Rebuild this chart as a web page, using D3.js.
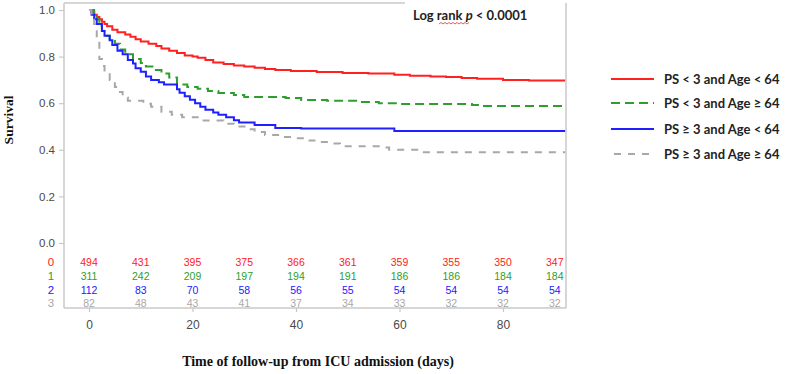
<!DOCTYPE html>
<html><head><meta charset="utf-8">
<script src="https://cdn.jsdelivr.net/npm/d3@7/dist/d3.min.js"></script>
<style>body{margin:0;background:#fff}svg{display:block}</style>
</head><body><svg id="c" width="785" height="374"></svg>
<script>
// ---- data ----
const seriesNames = ["PS < 3 and Age < 64","PS < 3 and Age \u2265 64","PS \u2265 3 and Age < 64","PS \u2265 3 and Age \u2265 64"];
const redCurve = [[0,1.0],[0.5,0.99],[1,0.98],[1.5,0.97],[2,0.96],[2.5,0.95],[3,0.94],[3.5,0.93],[4.5,0.915],[5.5,0.905],[7,0.895],[8,0.885],[9,0.875],[10,0.865],[11.5,0.855],[13,0.845],[14,0.835],[15.5,0.825],[17,0.815],[18.5,0.805],[20,0.80],[21,0.795],[22.5,0.785],[24,0.775],[26,0.768],[28,0.762],[30,0.757],[32,0.752],[34,0.747],[36,0.742],[39,0.738],[44,0.734],[49,0.73],[54,0.727],[59,0.722],[62,0.718],[66,0.715],[69,0.712],[72,0.708],[75,0.705],[80,0.70],[85,0.697],[92,0.697]];
const greenCurve = [[0,1.0],[1,0.98],[1.5,0.96],[2,0.93],[2.5,0.91],[3,0.89],[4,0.875],[5,0.855],[6,0.83],[7,0.81],[8.5,0.79],[10,0.772],[11,0.757],[12.5,0.742],[14,0.727],[15.5,0.71],[17,0.68],[19,0.67],[21,0.662],[23,0.652],[25,0.644],[28,0.635],[30,0.627],[38,0.622],[41,0.614],[46,0.61],[52,0.605],[56,0.60],[60,0.597],[74,0.592],[76,0.588],[92,0.588]];
const blueCurve = [[0,1.0],[0.5,0.98],[1,0.96],[1.5,0.94],[2.5,0.91],[3,0.89],[4,0.87],[4.5,0.85],[5.5,0.825],[6.5,0.81],[7.5,0.785],[8.5,0.77],[9,0.75],[10,0.735],[11,0.715],[12,0.70],[13.5,0.69],[14.5,0.68],[17,0.66],[17.5,0.645],[18.5,0.63],[19.5,0.615],[20.5,0.60],[21.5,0.585],[22.5,0.572],[24,0.56],[25,0.55],[26.5,0.54],[28,0.527],[29,0.517],[32,0.506],[36,0.494],[41,0.491],[59,0.481],[92,0.481]];
const grayCurve = [[0,1.0],[0.5,0.976],[1,0.94],[1.5,0.87],[2,0.79],[2.5,0.76],[3,0.73],[4,0.70],[5,0.67],[5.5,0.648],[6.5,0.625],[7.5,0.61],[10.5,0.598],[12,0.585],[14,0.563],[16,0.55],[18,0.54],[21,0.526],[26,0.512],[28,0.50],[31,0.488],[32,0.476],[34,0.464],[37,0.455],[40,0.45],[42,0.44],[45,0.433],[47,0.427],[48.5,0.415],[57,0.41],[58,0.40],[64,0.39],[92,0.39]];
const riskTimes = [0,10,20,30,40,50,60,70,80,90];
const riskRed = [494,431,395,375,366,361,359,355,350,347];
const riskGreen = [311,242,209,197,194,191,186,186,184,184];
const riskBlue = [112,83,70,58,56,55,54,54,54,54];
const riskGray = [82,48,43,41,37,34,33,32,32,32];
const riskRowLabels = ["0","1","2","3"];
const xTicks = [0,20,40,60,80];
const yTicks = [0,0.2,0.4,0.6,0.8,1.0];

// ---- layout ----
const svg = d3.select("#c");
const frame = {l:64, r:566, t:3, b:308};
const x = d3.scaleLinear().domain([0,80]).range([89,503]);
const y = d3.scaleLinear().domain([0,1]).range([243,10]);
const colors = ["#ff2020","#2e9e2e","#2020ff","#a8a8a8"];
const dashes = [null,"9,5",null,"7,7"];
const curves = [redCurve,greenCurve,blueCurve,grayCurve];
const risks = [riskRed,riskGreen,riskBlue,riskGray];
const axisCol = "#c8c8c8";
const textCol = "#4a4a4a";
const sans = "Arial, 'Liberation Sans', sans-serif";

// frame
svg.append("line").attr("x1",frame.l).attr("x2",frame.l).attr("y1",frame.t).attr("y2",frame.b).attr("stroke",axisCol).attr("stroke-width",1.5);
svg.append("line").attr("x1",frame.l).attr("x2",frame.r).attr("y1",frame.b).attr("y2",frame.b).attr("stroke",axisCol).attr("stroke-width",1.5);
svg.append("line").attr("x1",frame.r).attr("x2",frame.r).attr("y1",frame.t).attr("y2",frame.b).attr("stroke",axisCol).attr("stroke-width",1.5);
svg.append("line").attr("x1",frame.l).attr("x2",405).attr("y1",frame.t).attr("y2",frame.t).attr("stroke",axisCol).attr("stroke-width",1.5);

// y axis
const yAxis = d3.axisLeft(y).tickValues(yTicks).tickFormat(d3.format(".1f")).tickSize(5).tickPadding(4);
const gy = svg.append("g").attr("transform",`translate(${frame.l},0)`).call(yAxis);
gy.select(".domain").remove();
gy.selectAll(".tick line").attr("stroke",axisCol).attr("stroke-width",1.2);
gy.selectAll(".tick text").attr("fill",textCol).style("font-family",sans).style("font-size","11.5px");

// x axis
const xAxis = d3.axisBottom(x).tickValues(xTicks).tickSize(4).tickPadding(8);
const gx = svg.append("g").attr("transform",`translate(0,${frame.b})`).call(xAxis);
gx.select(".domain").remove();
gx.selectAll(".tick line").attr("stroke",axisCol).attr("stroke-width",1.2);
gx.selectAll(".tick text").attr("fill",textCol).style("font-family",sans).style("font-size","12px");

// curves
const line = d3.line().x(d=>x(d[0])).y(d=>y(d[1])).curve(d3.curveStepAfter);
curves.forEach((c,i)=>{
  const p = svg.append("path").attr("d",line(c)).attr("fill","none").attr("stroke",colors[i]).attr("stroke-width",2);
  if(dashes[i]) p.attr("stroke-dasharray",dashes[i]);
});

// at-risk table
const riskY = [262,276,290,303];
risks.forEach((r,i)=>{
  svg.append("text").attr("x",51).attr("y",riskY[i]+4).attr("text-anchor","middle")
    .attr("fill",colors[i]).style("font-family",sans).style("font-size","11.5px").text(riskRowLabels[i]);
  svg.selectAll(null).data(r).enter().append("text")
    .attr("x",(d,j)=>x(riskTimes[j])).attr("y",riskY[i]+3.5).attr("text-anchor","middle")
    .attr("fill",colors[i]).style("font-family",sans).style("font-size","10.5px").text(d=>d);
});

// titles
svg.append("text").attr("x",318).attr("y",366).attr("text-anchor","middle")
  .style("font-family","'Liberation Serif','Times New Roman',serif").style("font-weight","bold").style("font-size","14px").attr("fill","#111")
  .text("Time of follow-up from ICU admission (days)");
svg.append("text").attr("transform","translate(13,120) rotate(-90)").attr("text-anchor","middle")
  .style("font-family","'Liberation Serif','Times New Roman',serif").style("font-weight","bold").style("font-size","13.5px").attr("fill","#111")
  .text("Survival");

// log rank annotation
const lr = svg.append("text").attr("x",413).attr("y",20)
  .style("font-family","Lato, 'Open Sans', sans-serif").style("font-weight","bold").style("font-size","13px").attr("fill","#222");
lr.append("tspan").text("Log rank ");
lr.append("tspan").style("font-style","italic").text("p");
lr.append("tspan").text(" < 0.0001");
// spell-check squiggle under "rank"
let sq = "M439,24";
for(let k=0;k<15;k++){ sq += ` L${441+k*2},${k%2?24:22.5}`; }
svg.append("path").attr("d",sq).attr("fill","none").attr("stroke","#e03030").attr("stroke-width",0.8);

// legend
const legY = [79,103,129,154];
seriesNames.forEach((n,i)=>{
  const l = svg.append("line").attr("x1",611).attr("x2",654).attr("y1",legY[i]).attr("y2",legY[i])
    .attr("stroke",colors[i]).attr("stroke-width",2);
  if(dashes[i]) l.attr("stroke-dasharray", i===1 ? "9,5" : "7,7").attr("stroke-dashoffset", i===3 ? -3 : 0);
  svg.append("text").attr("x",664).attr("y",legY[i]+4.5)
    .style("font-family","Lato, 'Open Sans', sans-serif").style("font-weight","bold").style("font-size","13px").attr("fill","#222").text(n);
});
</script></body></html>
